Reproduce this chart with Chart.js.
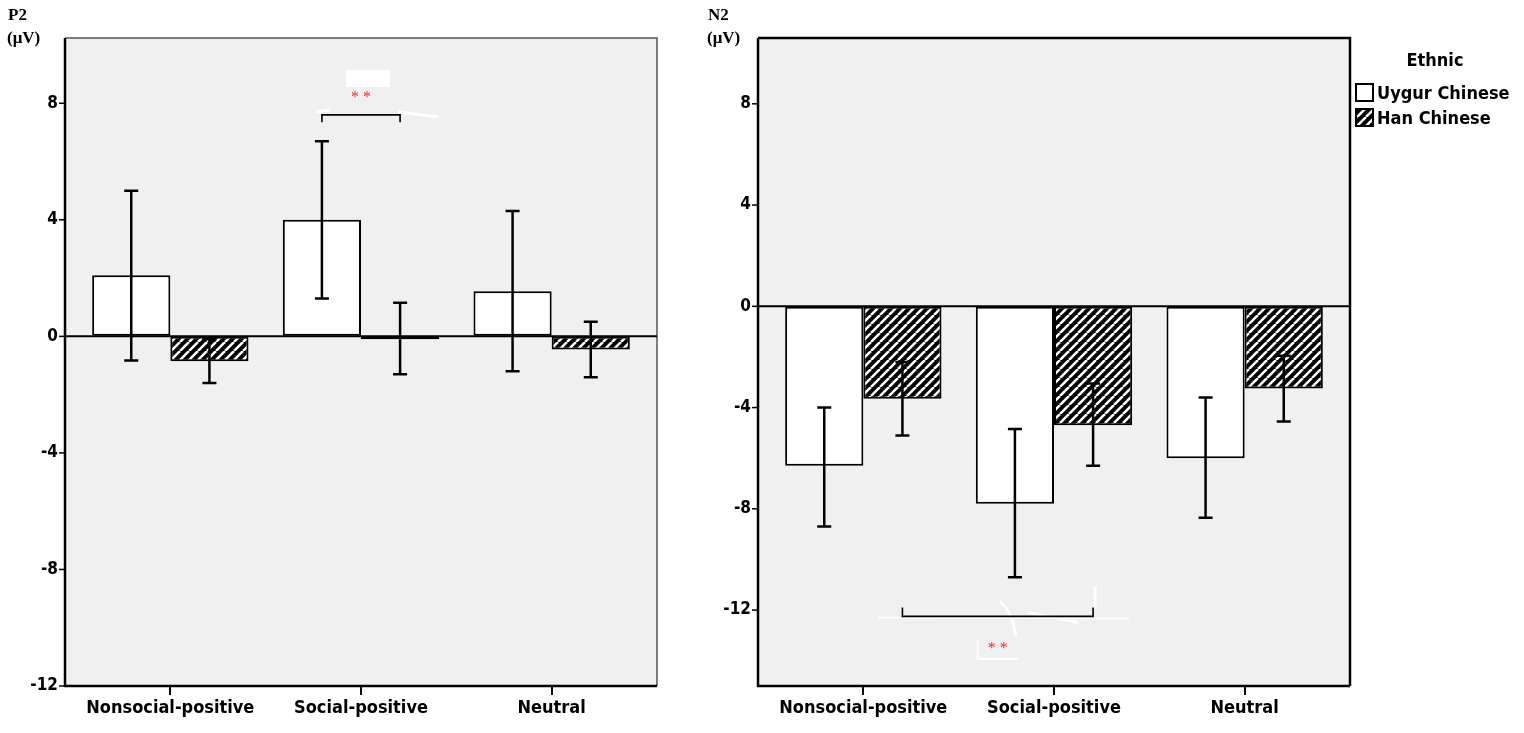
<!DOCTYPE html>
<html>
<head>
<meta charset="utf-8">
<script src="https://cdn.jsdelivr.net/npm/chart.js@4.4.1/dist/chart.umd.min.js"></script>
<style>
  html, body { margin: 0; background: #fff; }
  #wrap { position: relative; width: 1524px; height: 733px; }
  .box { position: absolute; top: 0; height: 733px; }
  #boxP2 { left: 0; width: 700px; }
  #boxN2 { left: 700px; width: 824px; }
</style>
</head>
<body>
<div id="wrap">
  <div class="box" id="boxP2"><canvas id="p2Canvas"></canvas></div>
  <div class="box" id="boxN2"><canvas id="n2Canvas"></canvas></div>
</div>
<script>
// ---- data ----
const CATEGORIES = ['Nonsocial-positive', 'Social-positive', 'Neutral'];
const GROUPS = ['Uygur Chinese', 'Han Chinese'];

const P2_UYGUR = [2.1, 4.0, 1.55];
const P2_UYGUR_LO = [-0.83, 1.3, -1.2];
const P2_UYGUR_HI = [5.0, 6.7, 4.3];
const P2_HAN = [-0.85, -0.1, -0.45];
const P2_HAN_LO = [-1.6, -1.3, -1.4];
const P2_HAN_HI = [-0.1, 1.15, 0.5];
const P2_TICKS = [-12, -8, -4, 0, 4, 8];

const N2_UYGUR = [-6.3, -7.8, -6.0];
const N2_UYGUR_LO = [-8.7, -10.7, -8.35];
const N2_UYGUR_HI = [-4.0, -4.85, -3.6];
const N2_HAN = [-3.65, -4.7, -3.25];
const N2_HAN_LO = [-5.1, -6.3, -4.55];
const N2_HAN_HI = [-2.2, -3.05, -1.95];
const N2_TICKS = [-12, -8, -4, 0, 4, 8];

// significance: [fromDataset, fromCat, toDataset, toCat, level, tickEnd, labelAt]
const P2_SIG = [[0, 1, 1, 1, 7.6, 7.35, 8.25]];
const N2_SIG = [[1, 0, 1, 1, -12.25, -11.9, -13.45]];

const NARROW = "'Liberation Sans Narrow', 'DejaVu Sans Condensed', 'Liberation Sans', sans-serif";
const SERIF = "'Liberation Serif', 'DejaVu Serif', serif";
const BLEED = 10; // plot frame reaches a little past the outer categories

function makeHatch(ctx) {
  const c = document.createElement('canvas');
  c.width = c.height = 9;
  const g = c.getContext('2d');
  g.fillStyle = '#000';
  g.fillRect(0, 0, 9, 9);
  g.strokeStyle = '#fff';
  g.lineWidth = 2.6;
  g.beginPath();
  [-9, 0, 9].forEach((x0) => { g.moveTo(x0, 9); g.lineTo(x0 + 9, 0); });
  g.stroke();
  return ctx.createPattern(c, 'repeat');
}

function decor(cfg) {
  return {
    id: 'decor',
    beforeDraw(chart) {
      const { ctx, chartArea: a } = chart;
      ctx.save();
      ctx.fillStyle = '#f0f0f0';
      ctx.fillRect(a.left - BLEED, a.top, a.right - a.left + 2 * BLEED, a.bottom - a.top);
      ctx.restore();
    },
    afterDatasetsDraw(chart) {
      const { ctx, chartArea: a, scales: { y } } = chart;
      const L = a.left - BLEED, R = a.right + BLEED;
      ctx.save();
      // frame top / right
      ctx.strokeStyle = cfg.frame;
      ctx.lineWidth = cfg.frameW;
      ctx.beginPath();
      ctx.moveTo(L, a.top); ctx.lineTo(R, a.top); ctx.lineTo(R, a.bottom);
      ctx.stroke();
      // axes left / bottom
      ctx.strokeStyle = '#000';
      ctx.lineWidth = 2.5;
      ctx.beginPath();
      ctx.moveTo(L, a.top); ctx.lineTo(L, a.bottom); ctx.lineTo(R, a.bottom);
      ctx.stroke();
      // y tick marks
      ctx.lineWidth = 1.5;
      y.ticks.forEach((t) => {
        const py = y.getPixelForValue(t.value);
        ctx.beginPath(); ctx.moveTo(L - 6, py); ctx.lineTo(L, py); ctx.stroke();
      });
      // zero line
      const y0 = y.getPixelForValue(0);
      ctx.lineWidth = 2;
      ctx.beginPath(); ctx.moveTo(L, y0); ctx.lineTo(R, y0); ctx.stroke();
      // error bars
      ctx.lineWidth = 2.5;
      cfg.err.forEach(([lo, hi], d) => {
        chart.getDatasetMeta(d).data.forEach((bar, i) => {
          const yl = y.getPixelForValue(lo[i]), yh = y.getPixelForValue(hi[i]);
          ctx.beginPath();
          ctx.moveTo(bar.x, yl); ctx.lineTo(bar.x, yh);
          ctx.moveTo(bar.x - 7, yl); ctx.lineTo(bar.x + 7, yl);
          ctx.moveTo(bar.x - 7, yh); ctx.lineTo(bar.x + 7, yh);
          ctx.stroke();
        });
      });
      // significance brackets
      cfg.sig.forEach(([d1, c1, d2, c2, lvl, tip, lab]) => {
        const x1 = chart.getDatasetMeta(d1).data[c1].x;
        const x2 = chart.getDatasetMeta(d2).data[c2].x;
        const yl = y.getPixelForValue(lvl), yt = y.getPixelForValue(tip), ys = y.getPixelForValue(lab);
        const xm = (x1 + x2) / 2;
        // white retouch marks seen in the figure
        ctx.fillStyle = '#fff';
        ctx.strokeStyle = '#fff';
        if (cfg.retouch === 'above') {
          ctx.fillRect(xm - 15, ys - 26, 44, 17);
          ctx.lineWidth = 3;
          ctx.beginPath(); ctx.moveTo(x1 - 5, yl - 3); ctx.lineTo(x1 + 8, yl - 5); ctx.stroke();
          ctx.beginPath(); ctx.moveTo(x2 - 2, yl - 3); ctx.lineTo(x2 + 38, yl + 2); ctx.stroke();
        } else {
          ctx.lineWidth = 2;
          ctx.beginPath(); ctx.moveTo(x1 - 24, yl + 1); ctx.lineTo(x2 + 36, yl + 2); ctx.stroke();
          ctx.beginPath(); ctx.moveTo(xm - 20, ys - 6); ctx.lineTo(xm - 20, ys + 12); ctx.lineTo(xm + 20, ys + 12); ctx.stroke();
          ctx.lineWidth = 3;
          ctx.beginPath(); ctx.moveTo(xm + 2, yl - 15); ctx.quadraticCurveTo(xm + 14, yl - 6, xm + 18, yl + 20); ctx.stroke();
          ctx.beginPath(); ctx.moveTo(xm + 30, yl - 4); ctx.lineTo(xm + 80, yl + 6); ctx.stroke();
          ctx.beginPath(); ctx.moveTo(x2 + 2, yl - 30); ctx.lineTo(x2 + 2, yl - 8); ctx.stroke();
        }
        ctx.strokeStyle = '#000';
        ctx.lineWidth = 1.6;
        ctx.beginPath();
        ctx.moveTo(x1, yt); ctx.lineTo(x1, yl); ctx.lineTo(x2, yl); ctx.lineTo(x2, yt);
        ctx.stroke();
        ctx.fillStyle = '#e53030';
        ctx.font = '16px ' + SERIF;
        ctx.textAlign = 'center';
        ctx.textBaseline = 'middle';
        ctx.fillText('* *', xm, ys + 2);
      });
      ctx.restore();
    },
    afterDraw(chart) {
      const { ctx } = chart;
      ctx.save();
      ctx.fillStyle = '#000';
      ctx.font = 'bold 17px ' + SERIF;
      ctx.textAlign = 'left';
      ctx.textBaseline = 'alphabetic';
      ctx.fillText(cfg.title[0], 8, 20);
      ctx.fillText(cfg.title[1], 7, 43);
      if (cfg.legend) {
        ctx.font = 'bold 18px ' + NARROW;
        ctx.textAlign = 'center';
        ctx.fillText('Ethnic', 735, 66);
        ctx.textAlign = 'left';
        ctx.textBaseline = 'middle';
        chart.data.datasets.forEach((ds, i) => {
          const top = 84 + i * 25;
          ctx.fillStyle = ds.backgroundColor;
          ctx.fillRect(656, top, 17, 17);
          ctx.strokeStyle = '#000';
          ctx.lineWidth = 2;
          ctx.strokeRect(656, top, 17, 17);
          ctx.fillStyle = '#000';
          ctx.fillText(ds.label, 677, top + 10);
        });
      }
      ctx.restore();
    },
  };
}

function build(id, p) {
  const ctx = document.getElementById(id).getContext('2d');
  const hatch = makeHatch(ctx);
  return new Chart(ctx, {
    type: 'bar',
    data: {
      labels: CATEGORIES,
      datasets: [
        { label: GROUPS[0], data: p.uygur, backgroundColor: '#ffffff' },
        { label: GROUPS[1], data: p.han, backgroundColor: hatch },
      ].map((d) => Object.assign(d, {
        borderColor: '#000', borderWidth: 2, borderSkipped: false,
        categoryPercentage: 0.82, barPercentage: 1,
      })),
    },
    options: {
      responsive: true,
      maintainAspectRatio: false,
      animation: false,
      events: [],
      layout: { padding: { top: 38, right: p.padRight + BLEED, left: 0, bottom: 0 } },
      plugins: { legend: { display: false }, tooltip: { enabled: false } },
      scales: {
        x: {
          grid: { offset: false, drawOnChartArea: false, drawTicks: true, tickLength: 9, color: '#000', lineWidth: 2 },
          border: { display: false },
          ticks: { color: '#000', padding: 3, font: { family: NARROW, size: 18, weight: 'bold' } },
          afterFit: (s) => { s.height = 47; },
        },
        y: {
          min: p.min, max: p.max,
          afterBuildTicks: (s) => { s.ticks = p.ticks.map((v) => ({ value: v })); },
          grid: { drawOnChartArea: false, drawTicks: false },
          border: { display: false },
          ticks: { color: '#000', padding: BLEED + 7, font: { family: NARROW, size: 17, weight: 'bold' } },
          afterFit: (s) => { s.width = p.axisW + BLEED; },
        },
      },
    },
    plugins: [decor(p.decor)],
  });
}

build('p2Canvas', {
  uygur: P2_UYGUR, han: P2_HAN, min: -12, max: 10.24, ticks: P2_TICKS,
  padRight: 43, axisW: 65,
  decor: {
    err: [[P2_UYGUR_LO, P2_UYGUR_HI], [P2_HAN_LO, P2_HAN_HI]],
    sig: P2_SIG, title: ['P2', '(μV)'], frame: '#555', frameW: 1.5,
    legend: false, retouch: 'above',
  },
});

build('n2Canvas', {
  uygur: N2_UYGUR, han: N2_HAN, min: -15, max: 10.6, ticks: N2_TICKS,
  padRight: 174, axisW: 58,
  decor: {
    err: [[N2_UYGUR_LO, N2_UYGUR_HI], [N2_HAN_LO, N2_HAN_HI]],
    sig: N2_SIG, title: ['N2', '(μV)'], frame: '#000', frameW: 2.5,
    legend: true, retouch: 'below',
  },
});
</script>
</body>
</html>
